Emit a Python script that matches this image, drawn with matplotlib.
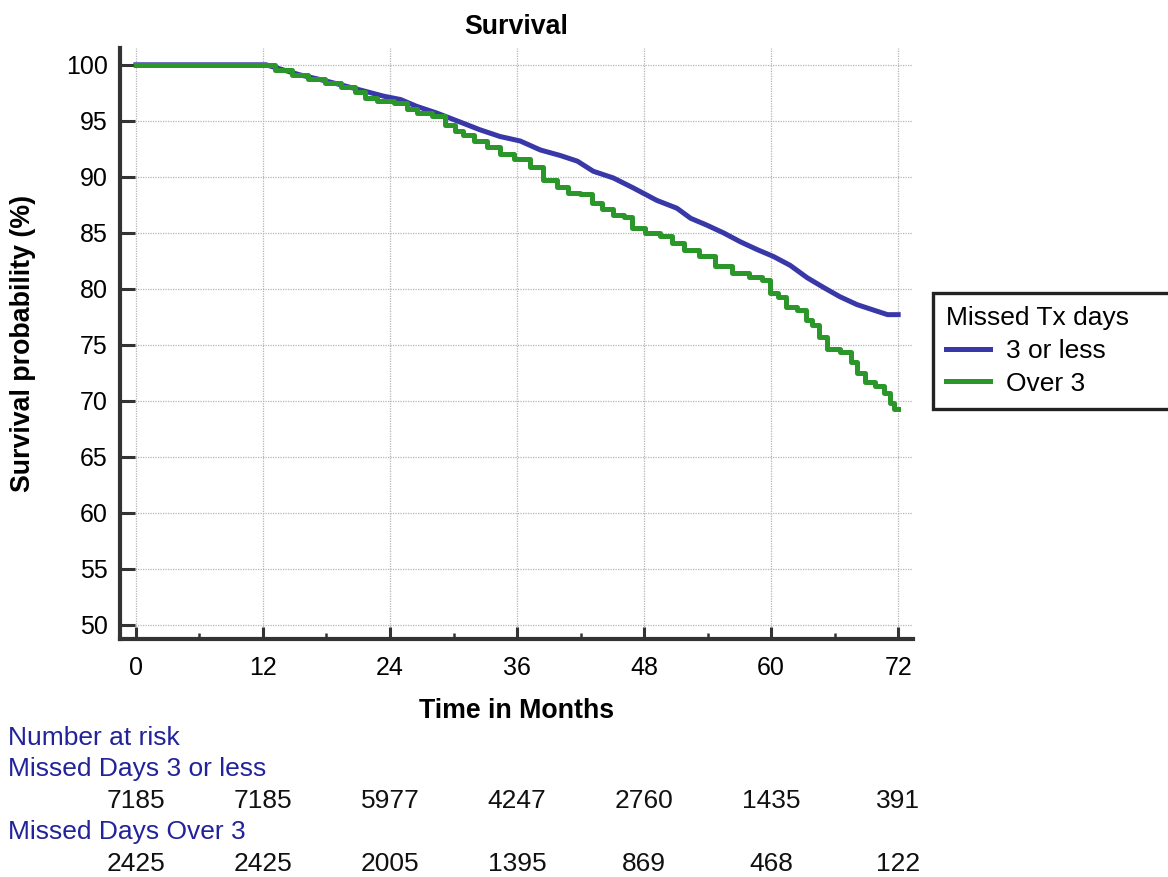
import matplotlib
matplotlib.use("Agg")
import matplotlib.pyplot as plt
from matplotlib.ticker import MultipleLocator

plt.rcParams['font.family'] = ['Liberation Sans', 'DejaVu Sans']

# ---- data ----
months_3_or_less = [0, 12.3, 13.9, 15.5, 17.1, 18.6, 20.2, 21.8, 23.4, 25.0, 26.5, 28.4,
                    30.6, 32.5, 34.4, 36.3, 38.2, 40.1, 41.7, 43.2, 45.1, 47.0, 49.2,
                    51.1, 52.4, 53.9, 55.5, 57.1, 58.7, 60.2, 61.8, 63.4, 65.0, 66.5,
                    68.1, 69.7, 71.0, 72.0]
surv_3_or_less = [100, 100, 99.55, 99.1, 98.75, 98.4, 98.0, 97.6, 97.2, 96.9, 96.3, 95.7,
                  94.9, 94.2, 93.6, 93.2, 92.4, 91.9, 91.4, 90.5, 89.9, 89.0, 87.9,
                  87.2, 86.3, 85.7, 85.0, 84.2, 83.5, 82.9, 82.1, 81.0, 80.1, 79.3,
                  78.6, 78.1, 77.7, 77.7]

months_over_3 = [0, 12.3, 13.9, 15.5, 17.1, 18.6, 20.2, 21.2, 22.1, 23.4, 25.3, 25.9, 27.2,
                 28.7, 29.7, 30.5, 31.3, 32.5, 33.8, 34.9, 36.6, 37.9, 39.1, 40.4, 41.3,
                 42.6, 43.5, 44.5, 45.7, 46.5, 47.3, 48.9, 50.2, 51.1, 52.4, 53.9, 55.5,
                 57.1, 58.7, 59.6, 60.1, 61.2, 61.7, 63.1, 63.5, 64.3, 64.8, 65.8, 67.2,
                 67.8, 68.4, 69.4, 70.2, 71.1, 71.4, 71.9, 72.0]
surv_over_3 = [100, 100, 99.55, 99.1, 98.75, 98.4, 98.0, 97.6, 97.0, 96.8, 96.6, 96.1, 95.7,
               95.4, 94.6, 94.1, 93.7, 93.2, 92.7, 92.0, 91.6, 90.9, 89.7, 89.1, 88.6,
               88.5, 87.7, 87.1, 86.6, 86.4, 85.4, 85.0, 84.7, 84.1, 83.5, 82.9, 82.0,
               81.4, 81.1, 80.8, 79.6, 79.3, 78.4, 78.1, 77.2, 76.8, 75.7, 74.6, 74.4,
               73.5, 72.5, 71.7, 71.3, 70.7, 69.8, 69.3, 69.3]

series_labels = ["3 or less", "Over 3"]
legend_title = "Missed Tx days"
x_ticks = [0, 12, 24, 36, 48, 60, 72]
y_ticks = [50, 55, 60, 65, 70, 75, 80, 85, 90, 95, 100]
risk_rows = ["Missed Days 3 or less", "Missed Days Over 3"]
risk_3_or_less = [7185, 7185, 5977, 4247, 2760, 1435, 391]
risk_over_3 = [2425, 2425, 2005, 1395, 869, 468, 122]

# ---- figure ----
W, H = 1168, 877
fig = plt.figure(figsize=(W / 100, H / 100), dpi=100)
ax = fig.add_axes([120 / W, 1 - 639 / H, (913 - 120) / W, (639 - 48) / H])

blue = '#3838a8'
green = '#2b972b'
ax.plot(months_3_or_less, surv_3_or_less, color=blue, lw=3.6,
        label=series_labels[0], solid_joinstyle='round', zorder=3)
ax.plot(months_over_3, surv_over_3, drawstyle='steps-mid', color=green, lw=3.6,
        label=series_labels[1], solid_joinstyle='round', zorder=4)

ax.set_xlim(-1.5, 73.4)
ax.set_ylim(48.75, 101.5)
ax.set_xticks(x_ticks)
ax.set_yticks(y_ticks)
ax.xaxis.set_minor_locator(MultipleLocator(6))
ax.grid(True, which='major', linestyle=(0, (1, 1)), color='#b5b5b5', lw=0.9)
ax.set_axisbelow(True)

for s in ['top', 'right']:
    ax.spines[s].set_visible(False)
for s in ['left', 'bottom']:
    ax.spines[s].set_linewidth(3)
    ax.spines[s].set_color('#333333')

ax.tick_params(axis='y', which='major', direction='in', length=11, width=2.2,
               color='#333333', labelsize=18, pad=9)
ax.tick_params(axis='x', which='major', direction='in', length=8.5, width=2.2,
               color='#333333', labelsize=18, pad=12)
ax.tick_params(axis='x', which='minor', direction='in', length=4.3, width=1.8,
               color='#333333')

ax.set_title("Survival", fontsize=19.3, fontweight='bold', pad=10)
ax.set_xlabel("Time in Months", fontsize=19.3, fontweight='bold', labelpad=13)
ax.set_ylabel("Survival probability (%)", fontsize=19.3, fontweight='bold', labelpad=21)

leg = ax.legend(title=legend_title, loc='upper left',
                bbox_to_anchor=(933 / W, 1 - 409 / H, (1180 - 933) / W, 116 / H),
                bbox_transform=fig.transFigure, mode='expand',
                fontsize=19, title_fontsize=19, frameon=True, fancybox=False,
                framealpha=1, edgecolor='#222222', alignment='left', handlelength=1.67,
                handletextpad=0.6, labelspacing=0.33, borderpad=0.5,
                borderaxespad=0)
leg.get_frame().set_linewidth(2.4)
for line in leg.get_lines():
    line.set_linewidth(3.6)

# ---- number at risk table ----
risk_blue = '#22229a'
fs_risk = 19
fig.text(8 / W, 1 - 738 / H, "Number at risk", color=risk_blue, fontsize=fs_risk,
         ha='left', va='center')
fig.text(8 / W, 1 - 769 / H, risk_rows[0], color=risk_blue, fontsize=fs_risk,
         ha='left', va='center')
fig.text(8 / W, 1 - 832 / H, risk_rows[1], color=risk_blue, fontsize=fs_risk,
         ha='left', va='center')
row_y = [1 - 801 / H, 1 - 864 / H]
for vals, yy in zip([risk_3_or_less, risk_over_3], row_y):
    for xt, v in zip(x_ticks, vals):
        xf = fig.transFigure.inverted().transform(ax.transData.transform((xt, 0)))[0]
        fig.text(xf, yy, str(v), fontsize=fs_risk, ha='center', va='center', color='#111111')

fig.savefig("out.png", dpi=100)
